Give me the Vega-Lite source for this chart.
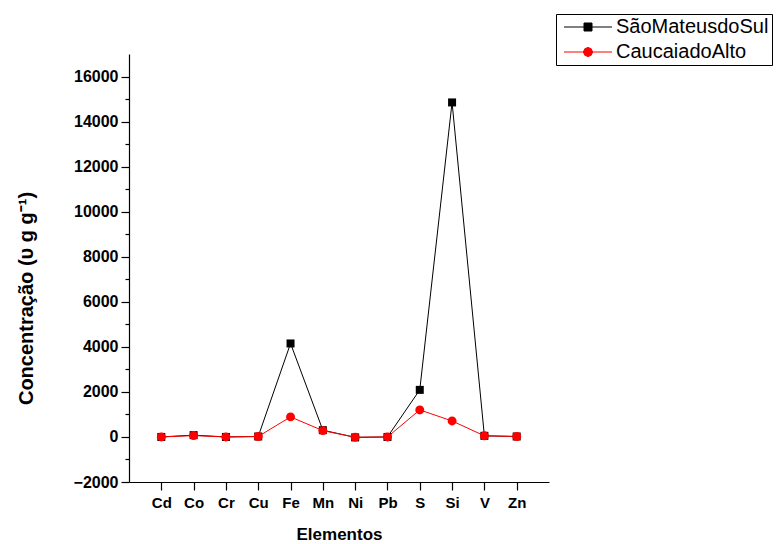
{
  "$schema": "https://vega.github.io/schema/vega-lite/v6.json",
  "width": 420,
  "height": 428,
  "autosize": "none",
  "padding": {"left": 129, "top": 54, "right": 227, "bottom": 62},
  "background": "white",
  "config": {
    "view": {"stroke": null},
    "font": "Liberation Sans",
    "axis": {"grid": false, "domainColor": "black", "tickColor": "black", "labelColor": "black", "titleColor": "black", "domainWidth": 1.2, "tickWidth": 1.2}
  },
  "data": {
    "values": [
      {"elemento": "Cd", "local": "SãoMateusdoSul", "conc": 0},
      {"elemento": "Co", "local": "SãoMateusdoSul", "conc": 80},
      {"elemento": "Cr", "local": "SãoMateusdoSul", "conc": 0},
      {"elemento": "Cu", "local": "SãoMateusdoSul", "conc": 20},
      {"elemento": "Fe", "local": "SãoMateusdoSul", "conc": 4150},
      {"elemento": "Mn", "local": "SãoMateusdoSul", "conc": 300},
      {"elemento": "Ni", "local": "SãoMateusdoSul", "conc": -20},
      {"elemento": "Pb", "local": "SãoMateusdoSul", "conc": 0},
      {"elemento": "S", "local": "SãoMateusdoSul", "conc": 2090},
      {"elemento": "Si", "local": "SãoMateusdoSul", "conc": 14850},
      {"elemento": "V", "local": "SãoMateusdoSul", "conc": 50},
      {"elemento": "Zn", "local": "SãoMateusdoSul", "conc": 20},
      {"elemento": "Cd", "local": "CaucaiadoAlto", "conc": 0},
      {"elemento": "Co", "local": "CaucaiadoAlto", "conc": 60},
      {"elemento": "Cr", "local": "CaucaiadoAlto", "conc": 0},
      {"elemento": "Cu", "local": "CaucaiadoAlto", "conc": 20},
      {"elemento": "Fe", "local": "CaucaiadoAlto", "conc": 890},
      {"elemento": "Mn", "local": "CaucaiadoAlto", "conc": 280},
      {"elemento": "Ni", "local": "CaucaiadoAlto", "conc": -10},
      {"elemento": "Pb", "local": "CaucaiadoAlto", "conc": 0},
      {"elemento": "S", "local": "CaucaiadoAlto", "conc": 1200},
      {"elemento": "Si", "local": "CaucaiadoAlto", "conc": 710},
      {"elemento": "V", "local": "CaucaiadoAlto", "conc": 50},
      {"elemento": "Zn", "local": "CaucaiadoAlto", "conc": 20}
    ]
  },
  "encoding": {
    "x": {
      "field": "elemento",
      "type": "ordinal",
      "sort": null,
      "scale": {"type": "point", "padding": 1},
      "axis": {
        "title": "Elementos",
        "labelAngle": 0,
        "labelFontSize": 15,
        "labelFontWeight": "bold",
        "labelPadding": 5,
        "tickSize": 8,
        "titleFontSize": 17,
        "titleFontWeight": "bold",
        "titlePadding": 16
      }
    },
    "y": {
      "field": "conc",
      "type": "quantitative",
      "scale": {"domain": [-2000, 17000], "nice": false, "zero": false},
      "axis": {
        "title": "Concentração (υ g g⁻¹)",
        "values": [-2000, -1000, 0, 1000, 2000, 3000, 4000, 5000, 6000, 7000, 8000, 9000, 10000, 11000, 12000, 13000, 14000, 15000, 16000],
        "format": "d",
        "labelExpr": "datum.value % 2000 === 0 ? datum.label : ''",
        "tickSize": {"condition": {"test": "datum.value % 2000 === 0", "value": 8}, "value": 4},
        "labelFontSize": 16,
        "labelFontWeight": "bold",
        "labelPadding": 3,
        "titleFontSize": 20,
        "titleFontWeight": "bold",
        "titlePadding": 37,
        "titleY": 244
      }
    },
    "color": {
      "field": "local",
      "type": "nominal",
      "sort": null,
      "scale": {"domain": ["SãoMateusdoSul", "CaucaiadoAlto"], "range": ["#000000", "#ff0000"]},
      "legend": {
        "title": null,
        "orient": "none",
        "legendX": 427,
        "legendY": -40,
        "strokeColor": "black",
        "fillColor": "white",
        "padding": 3,
        "rowPadding": 5,
        "symbolSize": 64,
        "symbolOffset": 19,
        "labelOffset": 18,
        "labelFontSize": 20,
        "labelLimit": 400,
        "labelColor": "black",
        "encode": {
          "symbols": {
            "update": {
              "shape": {"signal": "datum.value === 'SãoMateusdoSul' ? 'M -6 0 L 6 0 M -1 -1 L 1 -1 L 1 1 L -1 1 Z' : 'M -6 0 L 6 0 M 1.15 0 L 0.81 0.81 L 0 1.15 L -0.81 0.81 L -1.15 0 L -0.81 -0.81 L 0 -1.15 L 0.81 -0.81 Z'"},
              "fill": {"signal": "datum.value === 'SãoMateusdoSul' ? '#000000' : '#ff0000'"},
              "stroke": {"signal": "datum.value === 'SãoMateusdoSul' ? '#000000' : '#ff0000'"},
              "strokeWidth": {"value": 1},
              "fillOpacity": {"value": 1},
              "strokeOpacity": {"value": 1}
            }
          }
        }
      }
    }
  },
  "layer": [
    {
      "mark": {"type": "line", "strokeWidth": 1}
    },
    {
      "transform": [{"filter": "datum.local === 'SãoMateusdoSul'"}],
      "mark": {"type": "point", "shape": "square", "filled": true, "opacity": 1, "strokeWidth": 0, "size": 64}
    },
    {
      "transform": [{"filter": "datum.local === 'CaucaiadoAlto'"}],
      "mark": {"type": "point", "shape": "circle", "filled": true, "opacity": 1, "strokeWidth": 0, "size": 80}
    }
  ]
}
